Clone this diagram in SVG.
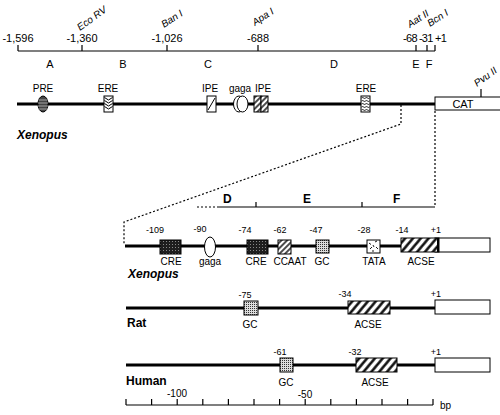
<svg xmlns="http://www.w3.org/2000/svg" width="500" height="415" viewBox="0 0 500 415">
<style>
text{font-family:"Liberation Sans",Arial,sans-serif;fill:#000}
.t11{font-size:11px}
.t10{font-size:10px}
.t9{font-size:9px}
.it{font-style:italic;font-size:10px}
.bi{font-style:italic;font-weight:bold;font-size:12px}
.b{font-weight:bold;font-size:12px}
.mid{text-anchor:middle}
.end{text-anchor:end}
.thin{stroke:#000;stroke-width:1.2;fill:none}
.thick{stroke:#000;stroke-width:3;fill:none}
.dot{stroke:#000;stroke-width:1.2;fill:none;stroke-dasharray:2 2}
.box{stroke:#000;stroke-width:1}
</style>
<defs>
<pattern id="hatch" width="4" height="4" patternUnits="userSpaceOnUse" patternTransform="rotate(45)"><rect width="4" height="4" fill="#fff"/><line x1="1" y1="0" x2="1" y2="4" stroke="#000" stroke-width="1.4"/></pattern>
<pattern id="whatch" width="6" height="6" patternUnits="userSpaceOnUse" patternTransform="rotate(40)"><rect width="6" height="6" fill="#fff"/><line x1="1.5" y1="0" x2="1.5" y2="6" stroke="#000" stroke-width="2.4"/></pattern>
<pattern id="dark" width="3" height="3" patternUnits="userSpaceOnUse"><rect width="3" height="3" fill="#1e1e1e"/><rect x="1" y="1" width="1" height="1" fill="#888"/></pattern>
<pattern id="light" width="2" height="2" patternUnits="userSpaceOnUse"><rect width="2" height="2" fill="#ddd"/><rect width="1" height="1" fill="#333"/></pattern>
</defs>

<!-- top map scale -->
<g id="map-scale">
<line class="thin" x1="18" y1="51" x2="435" y2="51"/>
<path class="thin" d="M18 51V45M82 51V45M167 51V45M258 51V45M416 51V45M427 51V45M435 51V45"/>
<text class="t11 mid" x="18" y="42">-1,596</text>
<text class="t11 mid" x="82" y="42">-1,360</text>
<text class="t11 mid" x="167" y="42">-1,026</text>
<text class="t11 mid" x="258" y="42">-688</text>
<text class="t11 end" x="417" y="42" letter-spacing="-0.6">-68</text>
<text class="t11" x="419" y="42" letter-spacing="-0.8">-31</text>
<text class="t11" x="435" y="42" letter-spacing="-0.6">+1</text>
<text class="it" transform="translate(80,31) rotate(-36)">Eco RV</text>
<text class="it" transform="translate(164,28) rotate(-33)">Ban I</text>
<text class="it" transform="translate(255,26) rotate(-33)">Apa I</text>
<text class="it" transform="translate(410,28) rotate(-33)">Aat II</text>
<text class="it" transform="translate(430,27) rotate(-33)">Bcn I</text>
<text class="t11 mid" x="50" y="68">A</text>
<text class="t11 mid" x="123" y="68">B</text>
<text class="t11 mid" x="208" y="68">C</text>
<text class="t11 mid" x="334" y="68">D</text>
<text class="t11 mid" x="416" y="68">E</text>
<text class="t11 mid" x="429" y="68">F</text>
</g>

<!-- main Xenopus promoter line -->
<g id="main-line">
<line class="thick" x1="17" y1="104" x2="435" y2="104"/>
<rect class="box" x="435" y="97" width="70" height="13" fill="#fff"/>
<text class="t11 mid" x="463" y="108">CAT</text>
<line class="thin" x1="481" y1="97" x2="481" y2="89"/>
<text class="it" transform="translate(477,87) rotate(-36)">Pvu II</text>
<text class="bi" x="17" y="139">Xenopus</text>
</g>
<g id="PRE">
<ellipse cx="43" cy="104" rx="5" ry="8" fill="#444" stroke="#000"/>
<path d="M38.5 100H47.5M38 103H48M38 106H48M38.5 109H47.5" stroke="#bbb" stroke-width="0.8"/>
<text class="t10 mid" x="43" y="92">PRE</text>
</g>
<g id="ERE1">
<rect class="box" x="104" y="96" width="9" height="16" fill="#fff"/>
<path d="M104.5 97.5l4 2.5l4-2.5M104.5 100.5l4 2.5l4-2.5M104.5 103.5l4 2.5l4-2.5M104.5 106.5l4 2.5l4-2.5" stroke="#000" stroke-width="1" fill="none"/>
<text class="t10 mid" x="108" y="92">ERE</text>
</g>
<g id="IPE1">
<rect class="box" x="207" y="96" width="9" height="16" fill="#fff"/>
<line x1="208" y1="110" x2="215" y2="98" stroke="#000"/>
<text class="t10 mid" x="210" y="92">IPE</text>
</g>
<g id="gaga1">
<ellipse cx="239" cy="104" rx="5.5" ry="8" fill="#fff" stroke="#000"/>
<ellipse cx="242.5" cy="104" rx="5.5" ry="8" fill="#fff" stroke="#000"/>
<text class="t10 mid" x="240" y="92">gaga</text>
</g>
<g id="IPE2">
<rect class="box" x="254" y="96" width="7" height="16" fill="url(#hatch)"/>
<rect class="box" x="261" y="96" width="7" height="16" fill="url(#hatch)"/>
<text class="t10 mid" x="263" y="92">IPE</text>
</g>
<g id="ERE2">
<rect class="box" x="361" y="96" width="9" height="16" fill="#fff"/>
<path d="M361.5 98c1.5-1.5 3 1.5 4 0s3 1.5 4 0M361.5 101c1.5-1.5 3 1.5 4 0s3 1.5 4 0M361.5 104c1.5-1.5 3 1.5 4 0s3 1.5 4 0M361.5 107c1.5-1.5 3 1.5 4 0s3 1.5 4 0M361.5 110c1.5-1.5 3 1.5 4 0s3 1.5 4 0" stroke="#000" stroke-width="0.9" fill="none"/>
<text class="t10 mid" x="366" y="92">ERE</text>
</g>

<!-- connectors: zoom lines -->
<g id="connectors">
<path class="dot" d="M401 105V124L124 222V245"/>
<line class="dot" x1="435" y1="111" x2="435" y2="207"/>
</g>

<!-- sub scale D E F -->
<g id="sub-scale">
<line class="dot" x1="197" y1="207" x2="219" y2="207"/>
<line class="thin" x1="219" y1="207" x2="435" y2="207"/>
<path class="thin" d="M256 207V202M362 207V202"/>
<text class="b" x="223" y="203">D</text>
<text class="b" x="303" y="203">E</text>
<text class="b" x="393" y="203">F</text>
</g>

<!-- Xenopus detail -->
<g id="xenopus-detail">
<line class="thick" x1="125" y1="246" x2="435" y2="246"/>
<rect class="box" x="435" y="238" width="55" height="14" fill="#fff"/>
<text class="bi" x="128" y="278">Xenopus</text>
</g>
<g id="x-CRE1">
<rect class="box" x="160" y="240" width="21" height="14" fill="url(#dark)"/>
<text class="t9 mid" x="155" y="233">-109</text>
<text class="t10 mid" x="171" y="265">CRE</text>
</g>
<g id="x-gaga">
<ellipse cx="210" cy="247" rx="5.5" ry="10" fill="#fff" stroke="#000"/>
<text class="t9 mid" x="200" y="232">-90</text>
<text class="t10 mid" x="210" y="265">gaga</text>
</g>
<g id="x-CRE2">
<rect class="box" x="247" y="240" width="21" height="14" fill="url(#dark)"/>
<text class="t9 mid" x="245" y="233">-74</text>
<text class="t10 mid" x="256" y="265">CRE</text>
</g>
<g id="x-CCAAT">
<rect class="box" x="278" y="240" width="13" height="14" fill="url(#hatch)"/>
<text class="t9 mid" x="280" y="233">-62</text>
<text class="t10 mid" x="290" y="265">CCAAT</text>
</g>
<g id="x-GC">
<rect class="box" x="316" y="240" width="13" height="13" fill="url(#light)"/>
<text class="t9 mid" x="316" y="233">-47</text>
<text class="t10 mid" x="322" y="265">GC</text>
</g>
<g id="x-TATA">
<rect class="box" x="367" y="240" width="13" height="13" fill="#fff"/>
<path d="M369 243l2 1.5M375 242l2-1M370 249l2-2M376 247l2 2M373 245l1 2M372 251l2 0" stroke="#000" stroke-width="0.9"/>
<text class="t9 mid" x="364" y="233">-28</text>
<text class="t10 mid" x="374" y="265">TATA</text>
</g>
<g id="x-ACSE">
<rect class="box" x="401" y="238" width="38" height="14" fill="url(#whatch)"/>
<rect x="437" y="238" width="2" height="14" fill="#000"/>
<text class="t9 mid" x="402" y="233">-14</text>
<text class="t9 mid" x="436" y="233">+1</text>
<text class="t10 mid" x="421" y="265">ACSE</text>
</g>

<!-- Rat -->
<g id="rat">
<line class="thick" x1="126" y1="308" x2="435" y2="308"/>
<rect class="box" x="435" y="300" width="55" height="14" fill="#fff"/>
<text class="b" x="127" y="327">Rat</text>
<text class="t9 mid" x="436" y="297">+1</text>
</g>
<g id="rat-GC">
<rect class="box" x="244" y="301" width="14" height="14" fill="url(#light)"/>
<text class="t9 mid" x="245" y="298">-75</text>
<text class="t10 mid" x="250" y="328">GC</text>
</g>
<g id="rat-ACSE">
<rect class="box" x="348" y="301" width="42" height="13" fill="url(#whatch)"/>
<text class="t9 mid" x="345" y="297">-34</text>
<text class="t10 mid" x="368" y="328">ACSE</text>
</g>

<!-- Human -->
<g id="human">
<line class="thick" x1="126" y1="365" x2="435" y2="365"/>
<rect class="box" x="435" y="358" width="55" height="14" fill="#fff"/>
<text class="b" x="126" y="385">Human</text>
<text class="t9 mid" x="436" y="355">+1</text>
</g>
<g id="human-GC">
<rect class="box" x="280" y="358" width="13" height="14" fill="url(#light)"/>
<text class="t9 mid" x="280" y="355">-61</text>
<text class="t10 mid" x="286" y="386">GC</text>
</g>
<g id="human-ACSE">
<rect class="box" x="356" y="358" width="41" height="14" fill="url(#whatch)"/>
<text class="t9 mid" x="355" y="355">-32</text>
<text class="t10 mid" x="375" y="386">ACSE</text>
</g>

<!-- bp scale -->
<g id="bp-scale">
<line class="thin" x1="126" y1="405" x2="433" y2="405"/>
<path class="thin" d="M126 405V399M151.6 405V399M177.2 405V399M202.8 405V399M228.4 405V399M254 405V399M279.6 405V399M305.2 405V399M330.8 405V399M356.4 405V399M382 405V399M407.6 405V399M433 405V399"/>
<text class="t10 mid" x="177" y="397">-100</text>
<text class="t10 mid" x="305" y="398">-50</text>
<text class="t10" x="440" y="409">bp</text>
</g>
</svg>
